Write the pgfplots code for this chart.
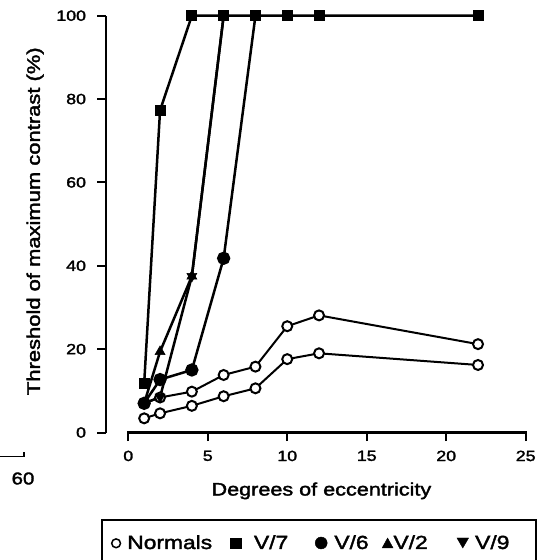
\documentclass[border=0pt]{standalone}
\usepackage{fontspec}
\setmainfont{Liberation Sans}[FakeStretch=1.2, FakeBold=2]
\usepackage{pgfplots}
\pgfplotsset{compat=1.18}
\begin{document}
\begin{tikzpicture}
\useasboundingbox (-105.7pt,-127.5pt) rectangle (445.3pt,432.5pt);
\begin{axis}[
  at={(0pt,0pt)}, anchor=south west,
  scale only axis, width=420pt, height=416.8pt,
  xmin=-1.42, xmax=25, ymin=0, ymax=100,
  axis x line=bottom, axis y line=left,
  axis line style={draw=none,-},
  xtick={0,5,10,15,20,25}, ytick={0,20,40,60,80,100},
  minor tick num=0,
  tick align=outside, major tick length=8.5pt,
  tick style={black, line width=2pt},
  /pgf/number format/assume math mode=true,
  ticklabel style={font=\fontsize{14.8}{14.8}\selectfont, inner sep=0pt},
  xticklabel style={yshift=-9.5pt},
  yticklabel style={xshift=-11pt},
  xlabel={Degrees of eccentricity},
  xlabel style={at={(axis description cs:0.5136,-0.140)}, anchor=center, font=\fontsize{18}{18}\selectfont},
  ylabel={Threshold of maximum contrast (\%)},
  ylabel style={at={(axis description cs:-0.168,0.507)}, anchor=center, font=\fontsize{18.3}{18.3}\selectfont},
  clip=false,
  legend columns=5,
  legend cell align=left,
  legend style={draw=none, fill=none, at={(axis description cs:0.01024,-0.2675)}, anchor=west,
    inner sep=0pt, column sep=0pt, row sep=0pt,
    font=\fontsize{19}{19}\selectfont,
    nodes={inner sep=0pt, anchor=base west}},
]
% axis lines
\draw[line width=2.2pt, line cap=rect] (axis cs:0,0) -- (axis cs:25,0);
\draw[line width=2.2pt] (axis cs:-1.42,0) -- (axis cs:-1.42,100);

% Normals (lower and upper)
\addplot[forget plot, black, line width=2pt, mark=*, mark size=5pt, mark options={fill=white, line width=2pt}]
  coordinates {(1,3.4) (2,4.6) (4,6.4) (6,8.7) (8,10.6) (10,17.6) (12,19.0) (22,16.2)};
\addplot[forget plot, black, line width=2pt, mark=*, mark size=5pt, mark options={fill=white, line width=2pt}]
  coordinates {(1,7.0) (2,8.4) (4,9.8) (6,13.8) (8,15.8) (10,25.5) (12,28.1) (22,21.2)};
% V/2
\addplot[forget plot, black, line width=2.5pt, mark=triangle*, mark size=5.8pt, mark indices={1,2,3}, mark options={line width=0.5pt}]
  coordinates {(1,7.0) (2,19.4) (4,37.5) (6,100)};
% V/9
\addplot[forget plot, black, line width=2.5pt, mark=triangle*, mark size=5.8pt, mark indices={1,2,3}, mark options={rotate=180, line width=0.5pt}]
  coordinates {(1,7.0) (2,8.5) (4,37.5) (6,100)};
% V/6
\addplot[forget plot, black, line width=2.5pt, mark=*, mark size=5.4pt, mark indices={1,2,3,4}]
  coordinates {(1,7.0) (2,12.7) (4,15.0) (6,41.8) (8,100)};
% V/7
\addplot[forget plot, black, line width=2.5pt, mark=square*, mark size=5pt, mark options={line width=0.8pt}]
  coordinates {(1,11.8) (2,77.3) (4,100) (6,100) (8,100) (10,100) (12,100) (22,100)};

% legend
\addlegendimage{legend image code/.code={\path (0pt,-10pt) (16.7pt,20pt); \draw[black, line width=1.5pt, fill=white] (5.7pt,5.7pt) circle (4.4pt);}}
\addlegendentry{\makebox[99.3pt][l]{Normals}}
\addlegendimage{legend image code/.code={\path (0pt,-10pt) (27pt,20pt); \fill[black] (3.35pt,0.35pt) rectangle (14.05pt,11.05pt);}}
\addlegendentry{\makebox[59pt][l]{V/7}}
\addlegendimage{legend image code/.code={\path (0pt,-10pt) (21pt,20pt); \fill[black] (8pt,6pt) circle (6pt);}}
\addlegendentry{\makebox[47pt][l]{V/6}}
\addlegendimage{legend image code/.code={\path (0pt,-10pt) (11.7pt,20pt); \fill[black] (0.5pt,1pt) -- (11.5pt,1pt) -- (6pt,11pt) -- cycle;}}
\addlegendentry{\makebox[63.3pt][l]{V/2}}
\addlegendimage{legend image code/.code={\path (0pt,-10pt) (18pt,20pt); \fill[black] (0pt,11pt) -- (11.6pt,11pt) -- (5.8pt,1pt) -- cycle;}}
\addlegendentry{\makebox[40pt][l]{V/9}}
\end{axis}
% legend frame
\draw[line width=1.6pt] (-3.4pt,-145pt) -- (-3.4pt,-87.5pt) -- (430.3pt,-87.5pt) -- (430.3pt,-145pt);
% stray fragment at lower left
\draw[line width=1.5pt] (-106pt,-24.2pt) -- (-81.7pt,-24.2pt) -- (-81.7pt,-19.5pt);
\node[font=\fontsize{17}{17}\selectfont, inner sep=0pt] at (-82.7pt,-46pt) {60};
\end{tikzpicture}
\end{document}
